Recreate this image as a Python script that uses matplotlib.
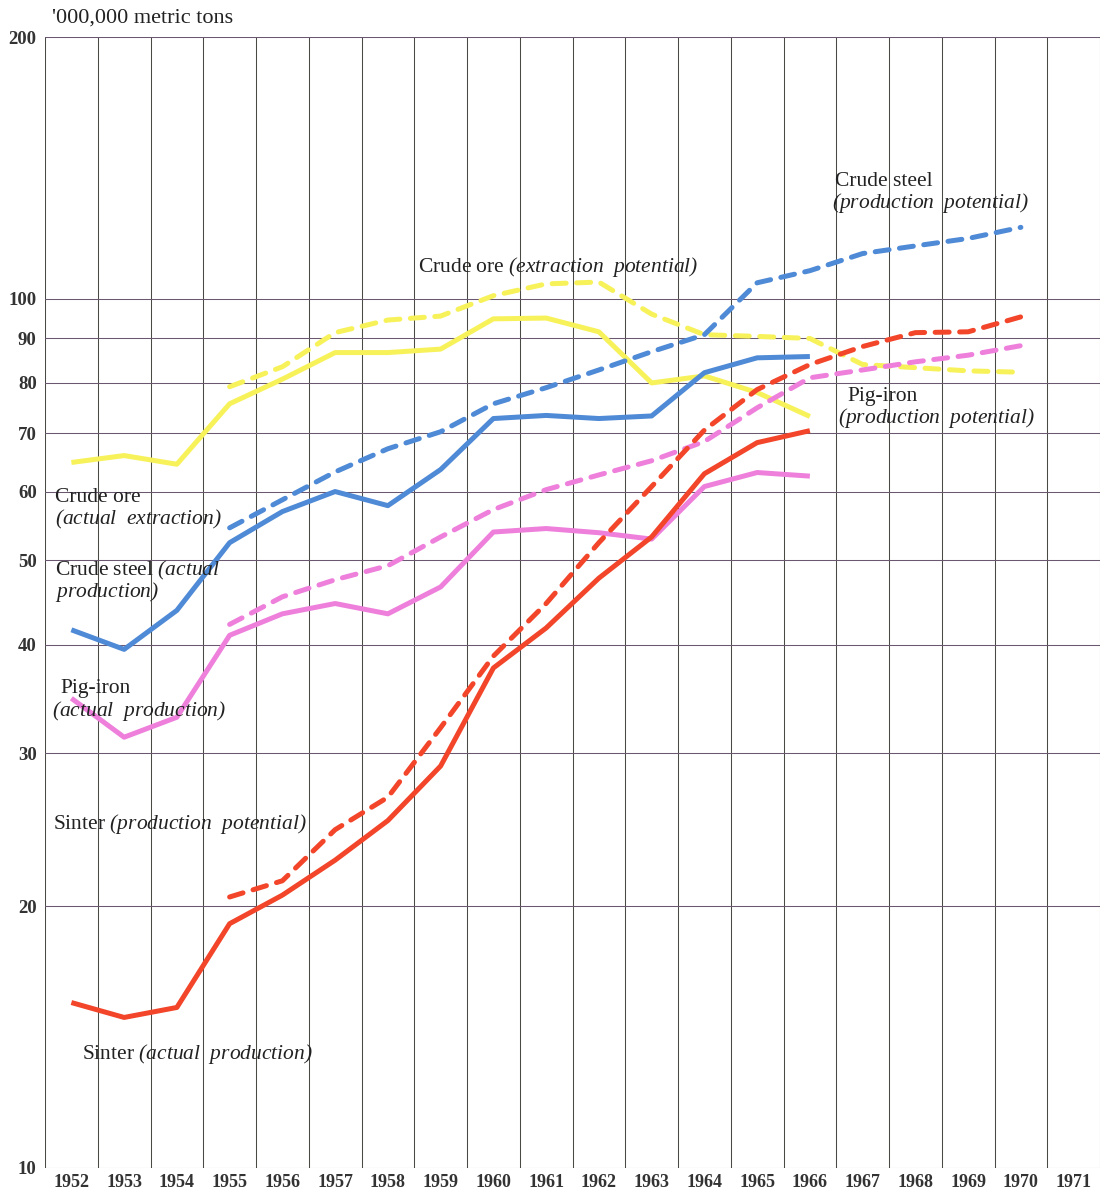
import numpy as np
import matplotlib
matplotlib.use("Agg")
import matplotlib.pyplot as plt

plt.rcParams['font.family'] = ['Liberation Serif', 'DejaVu Serif']
plt.rcParams['mathtext.fontset'] = 'custom'
# math text is only used for the italic parts, so brackets come out italic too
plt.rcParams['mathtext.rm'] = 'Liberation Serif:italic'
plt.rcParams['mathtext.it'] = 'Liberation Serif:italic'

years = list(range(1952, 1972))
actual_years = list(range(1952, 1967))
potential_years = list(range(1955, 1971))

# actual values, 1952-1966 ('000,000 metric tons)
ore_actual = [64.8, 66.0, 64.5, 75.7, 80.8, 86.7, 86.7, 87.5, 94.8, 95.0, 91.6, 80.0, 81.5, 78.0, 73.2]
steel_actual = [41.6, 39.5, 43.8, 52.4, 56.9, 60.0, 57.8, 63.6, 72.8, 73.4, 72.8, 73.3, 82.2, 85.5, 85.8]
pig_actual = [34.7, 31.3, 33.0, 41.0, 43.4, 44.6, 43.4, 46.6, 53.9, 54.4, 53.8, 52.9, 60.8, 63.1, 62.5]
sinter_actual = [15.5, 14.9, 15.3, 19.1, 20.6, 22.6, 25.1, 29.0, 37.6, 41.8, 47.7, 53.2, 62.9, 68.3, 70.5]

# potentials, 1955-1970
ore_potential = [79.2, 83.5, 91.4, 94.5, 95.5, 100.8, 104.0, 104.5, 96.0, 90.9, 90.5, 90.0, 84.0, 83.3, 82.6, 82.3]
steel_potential = [54.5, 58.7, 63.2, 67.2, 70.3, 75.7, 79.0, 82.8, 86.9, 90.9, 104.3, 107.7, 112.7, 115.0, 117.3, 120.8]
pig_potential = [42.2, 45.4, 47.5, 49.3, 53.2, 57.2, 60.3, 62.7, 65.1, 68.5, 74.9, 81.1, 82.8, 84.6, 86.1, 88.3]
sinter_potential = [20.5, 21.4, 24.5, 26.7, 32.1, 38.8, 44.6, 52.4, 60.8, 70.6, 78.6, 84.0, 88.1, 91.4, 91.6, 95.3]

y_ticks = [10, 20, 30, 40, 50, 60, 70, 80, 90, 100, 200]

YELLOW = '#f7f25a'
BLUE = '#4f8ad6'
PINK = '#ee80dc'
RED = '#f2452a'

fig = plt.figure(figsize=(11.09, 11.93), dpi=100)
ax = fig.add_axes([45 / 1109, 1 - 1168 / 1193, 1055 / 1109, 1131 / 1193])
ax.set_yscale('log')
ax.set_ylim(10, 200)
ax.set_xlim(1951.5, 1971.5)

# grid: column boundaries and value lines
for xb in np.arange(1951.5, 1972.0, 1.0):
    ax.axvline(xb, color='#4a4a44', lw=0.75, zorder=1)
for yv in y_ticks:
    ax.axhline(yv, color='#6a5870', lw=0.75, zorder=1)

for s in ax.spines.values():
    s.set_visible(False)

ax.set_xticks(years)
ax.set_xticklabels([str(y) for y in years], fontsize=13, fontweight='bold', color='#333333')
ax.set_yticks(y_ticks)
ax.set_yticklabels([str(v) for v in y_ticks], fontsize=13.5, fontweight='bold', color='#333333')
ax.yaxis.set_minor_locator(matplotlib.ticker.NullLocator())
ax.yaxis.set_minor_formatter(matplotlib.ticker.NullFormatter())
ax.tick_params(length=0, pad=4)
ax.tick_params(axis='y', pad=6)

lw = 3.6
dash = (2.8, 2.1)
series = [
    (ore_actual, ore_potential, YELLOW),
    (steel_actual, steel_potential, BLUE),
    (pig_actual, pig_potential, PINK),
    (sinter_actual, sinter_potential, RED),
]
for act, pot, col in series:
    ax.plot(actual_years, act, color=col, lw=lw, solid_capstyle='butt', zorder=3)
    ax.plot(potential_years, pot, color=col, lw=lw, dashes=dash, dash_capstyle='round', zorder=3)


def at(px, py):
    return ((px - 45) / 1055, (1168 - py) / 1131)


fs = 15.5
labels = [
    (835, 181, r'Crude steel'),
    (832, 203, r'$(production\ \ potential)$'),
    (418, 267, r'Crude ore $(extraction\ \ potential)$'),
    (847, 397, r'Pig-iron'),
    (838, 418, r'$(production\ \ potential)$'),
    (55, 497, r'Crude ore'),
    (55, 519, r'$(actual\ \ extraction)$'),
    (55, 570, r'Crude steel $(actual$'),
    (55, 592, r'$production)$'),
    (60, 689, r'Pig-iron'),
    (52, 711, r'$(actual\ \ production)$'),
    (53, 824, r'Sinter $(production\ \ potential)$'),
    (82, 1054, r'Sinter $(actual\ \ production)$'),
]
for px, py, txt in labels:
    ax.text(*at(px, py), txt, transform=ax.transAxes, fontsize=fs, color='#222222',
            ha='left', va='center', zorder=4)

fig.text(52 / 1109, 1 - 18 / 1193, "'000,000 metric tons", fontsize=16, color='#222222',
         ha='left', va='center')

fig.savefig('out.png', dpi=100, facecolor='white')
